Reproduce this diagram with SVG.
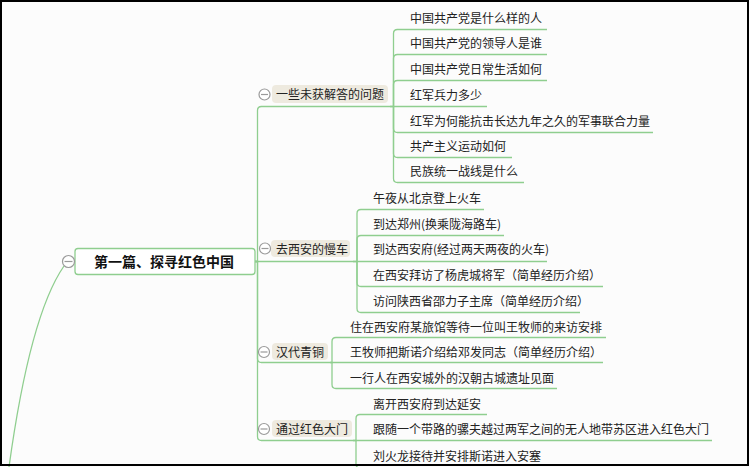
<svg xmlns="http://www.w3.org/2000/svg" width="750" height="467" viewBox="0 0 750 467">
<style>
.ln{fill:none;stroke:#8fce8f;stroke-width:1.3}
.t{font-family:"Noto Sans CJK SC","Liberation Sans",sans-serif;font-size:12px;fill:#222}
.tb{font-family:"Noto Sans CJK SC","Liberation Sans",sans-serif;font-size:14px;font-weight:bold;fill:#111}
.lbl{fill:#eeeadf}
.cc{fill:#fff;stroke:#9a9a9a;stroke-width:1.2}
.cm{stroke:#9a9a9a;stroke-width:1.2}
</style>
<rect x="0" y="0" width="750" height="467" fill="#fcfcfc"/>
<g id="connectors">
<path class="ln" d="M64,266 Q30,315 9,467"/>
<path class="ln" d="M255,261.5 H257.5 V110.5 Q257.5,106.5 261.5,106.5 H390"/>
<path class="ln" d="M255,261.5 H353"/>
<path class="ln" d="M255,261.5 H257.5 V358.5 Q257.5,362.5 261.5,362.5 H330"/>
<path class="ln" d="M255,261.5 H257.5 V436.5 Q257.5,440.5 261.5,440.5 H353"/>
<path class="ln" d="M390,106.5 H393.5 V33.5 Q393.5,29.5 397.5,29.5 H547"/>
<path class="ln" d="M393.5,106.5 V58.5 Q393.5,54.5 397.5,54.5 H547"/>
<path class="ln" d="M393.5,106.5 V84.5 Q393.5,80.5 397.5,80.5 H547"/>
<path class="ln" d="M390,106.5 H487"/>
<path class="ln" d="M393.5,106.5 V128.5 Q393.5,132.5 397.5,132.5 H653"/>
<path class="ln" d="M393.5,106.5 V153.5 Q393.5,157.5 397.5,157.5 H512"/>
<path class="ln" d="M393.5,106.5 V178.5 Q393.5,182.5 397.5,182.5 H524"/>
<path class="ln" d="M353,261.5 H357 V213.5 Q357,209.5 361,209.5 H484"/>
<path class="ln" d="M357,261.5 V239.5 Q357,235.5 361,235.5 H504"/>
<path class="ln" d="M353,261.5 H547"/>
<path class="ln" d="M357,261.5 V282.5 Q357,286.5 361,286.5 H603"/>
<path class="ln" d="M357,261.5 V308.5 Q357,312.5 361,312.5 H580"/>
<path class="ln" d="M330,362.5 H332 V341.5 Q332,337.5 336,337.5 H606"/>
<path class="ln" d="M330,362.5 H603"/>
<path class="ln" d="M332,362.5 V384.5 Q332,388.5 336,388.5 H557"/>
<path class="ln" d="M353,440.5 H356 V418.5 Q356,414.5 360,414.5 H487"/>
<path class="ln" d="M353,440.5 H712"/>
<path class="ln" d="M356,440.5 V464 Q356,468 360,468 H550"/>
</g>
<g id="root">
<rect x="75" y="248.5" width="180" height="26" rx="3" fill="#fff" stroke="#8fce8f" stroke-width="1.3"/>
<text class="tb" x="164" y="266.5" text-anchor="middle">第一篇、探寻红色中国</text>
<circle class="cc" cx="68.5" cy="261.5" r="6"/>
<line class="cm" x1="64.5" y1="261.5" x2="72.5" y2="261.5"/>
</g>
<g id="b1">
<rect class="lbl" x="272" y="85" width="116" height="18" rx="4"/>
<text class="t" x="276" y="98.5">一些未获解答的问题</text>
<circle class="cc" cx="264.5" cy="94.5" r="5.5"/>
<line class="cm" x1="261" y1="94.5" x2="268" y2="94.5"/>
</g>
<g id="b1c">
<text class="t" x="410" y="22.5">中国共产党是什么样的人</text>
<text class="t" x="410" y="47.5">中国共产党的领导人是谁</text>
<text class="t" x="410" y="73.5">中国共产党日常生活如何</text>
<text class="t" x="410" y="99.5">红军兵力多少</text>
<text class="t" x="410" y="125.5">红军为何能抗击长达九年之久的军事联合力量</text>
<text class="t" x="410" y="150.5">共产主义运动如何</text>
<text class="t" x="410" y="175.5">民族统一战线是什么</text>
</g>
<g id="b2">
<rect class="lbl" x="271" y="240" width="79" height="17" rx="4"/>
<text class="t" x="276" y="253.5">去西安的慢车</text>
<circle class="cc" cx="265" cy="248.5" r="5.5"/>
<line class="cm" x1="261.5" y1="248.5" x2="268.5" y2="248.5"/>
</g>
<g id="b2c">
<text class="t" x="373" y="202.5">午夜从北京登上火车</text>
<text class="t" x="373" y="228.5">到达郑州(换乘陇海路车)</text>
<text class="t" x="373" y="254">到达西安府(经过两天两夜的火车)</text>
<text class="t" x="373" y="279.5">在西安拜访了杨虎城将军（简单经历介绍）</text>
<text class="t" x="373" y="305.5">访问陕西省邵力子主席（简单经历介绍）</text>
</g>
<g id="b3">
<rect class="lbl" x="272" y="343" width="56" height="17" rx="4"/>
<text class="t" x="276" y="356.5">汉代青铜</text>
<circle class="cc" cx="264" cy="352" r="5.5"/>
<line class="cm" x1="260.5" y1="352" x2="267.5" y2="352"/>
</g>
<g id="b3c">
<text class="t" x="350" y="331.5">住在西安府某旅馆等待一位叫王牧师的来访安排</text>
<text class="t" x="350" y="357">王牧师把斯诺介绍给邓发同志（简单经历介绍）</text>
<text class="t" x="350" y="382.5">一行人在西安城外的汉朝古城遗址见面</text>
</g>
<g id="b4">
<rect class="lbl" x="272" y="420" width="80" height="17" rx="4"/>
<text class="t" x="276" y="433.5">通过红色大门</text>
<circle class="cc" cx="264" cy="429" r="5.5"/>
<line class="cm" x1="260.5" y1="429" x2="267.5" y2="429"/>
</g>
<g id="b4c">
<text class="t" x="373" y="408.5">离开西安府到达延安</text>
<text class="t" x="373" y="434">跟随一个带路的骡夫越过两军之间的无人地带苏区进入红色大门</text>
<text class="t" x="373" y="460.5">刘火龙接待并安排斯诺进入安塞</text>
</g>
<rect x="1" y="1" width="747" height="464" fill="none" stroke="#000" stroke-width="2"/>
</svg>
